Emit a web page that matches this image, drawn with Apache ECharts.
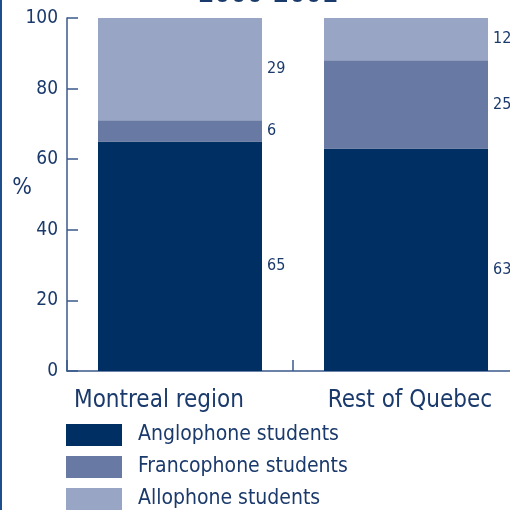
<!DOCTYPE html>
<html>
<head>
<meta charset="utf-8">
<script src="https://cdn.jsdelivr.net/npm/echarts@6/dist/echarts.min.js"></script>
<style>html,body{margin:0;padding:0;background:#fff}#c{width:510px;height:510px}</style>
</head>
<body>
<div id="c"></div>
<script>
const categories = ['Montreal region', 'Rest of Quebec'];
const seriesNames = ['Anglophone students', 'Francophone students', 'Allophone students'];
const anglophone = [65, 63];
const francophone = [6, 25];
const allophone = [29, 12];
const yTicks = [0, 20, 40, 60, 80, 100];
const titleText = '2000-2001';
const yUnit = '%';

const FONT = '"DejaVu Sans Condensed", "Liberation Sans Narrow", sans-serif';
const NAVY = '#1b3a6c';
const colors = ['#002f63', '#6879a3', '#99a5c4'];
const values = [anglophone, francophone, allophone];
const labelPads = [[0, 42, 0, 0], [0, 0, 0, 8]];

const chart = echarts.init(document.getElementById('c'), null, {renderer: 'canvas'});
chart.setOption({
  animation: false,
  textStyle: {fontFamily: FONT},
  graphic: [
    {type: 'rect', shape: {x: 0, y: 0, width: 2, height: 510}, style: {fill: '#1f4e8c'}},
    {type: 'text', x: 268, y: 8, style: {text: titleText, fontSize: 26, fontWeight: 'bold', fill: NAVY, fontFamily: FONT, align: 'center', verticalAlign: 'bottom'}},
    {type: 'text', x: 22, y: 188, style: {text: yUnit, fontSize: 23, fill: NAVY, fontFamily: FONT, align: 'center', verticalAlign: 'middle'}}
  ],
  grid: {left: 67, width: 452, top: 18, bottom: 139, containLabel: false, outerBoundsMode: 'none'},
  legend: {
    orient: 'vertical', left: 66, top: 424, padding: 0,
    itemWidth: 56, itemHeight: 22, itemGap: 10, icon: 'rect',
    textStyle: {fontSize: 21, color: NAVY, fontFamily: FONT, padding: [0, 0, 0, 11]},
    data: seriesNames
  },
  xAxis: {
    type: 'category',
    data: categories.map((c, i) => ({value: c, textStyle: {padding: labelPads[i]}})),
    axisLine: {lineStyle: {color: '#3a5a8a', width: 1.5}},
    axisTick: {show: true, inside: true, length: 11, interval: 0, lineStyle: {color: '#3a5a8a', width: 1.5}},
    axisLabel: {fontSize: 24, color: NAVY, margin: 18, fontFamily: FONT, interval: 0, hideOverlap: false}
  },
  yAxis: {
    type: 'value', min: 0, max: 100, interval: 20,
    axisLine: {show: true, lineStyle: {color: '#3a5a8a', width: 1.5}},
    axisTick: {show: true, inside: true, length: 11, lineStyle: {color: '#3a5a8a', width: 1.5}},
    splitLine: {show: false},
    axisLabel: {fontSize: 19, color: NAVY, margin: 9, fontFamily: FONT,
      formatter: v => yTicks.includes(v) ? String(v) : ''}
  },
  series: seriesNames.map((n, i) => ({
    name: n, type: 'bar', stack: 'total', barWidth: 164,
    itemStyle: {color: colors[i]},
    label: {show: true, position: 'right', distance: 5, fontSize: 16, color: NAVY, fontFamily: FONT,
      offset: i === 0 ? [0, 10] : [0, 0]},
    data: values[i]
  }))
});
</script>
</body>
</html>
